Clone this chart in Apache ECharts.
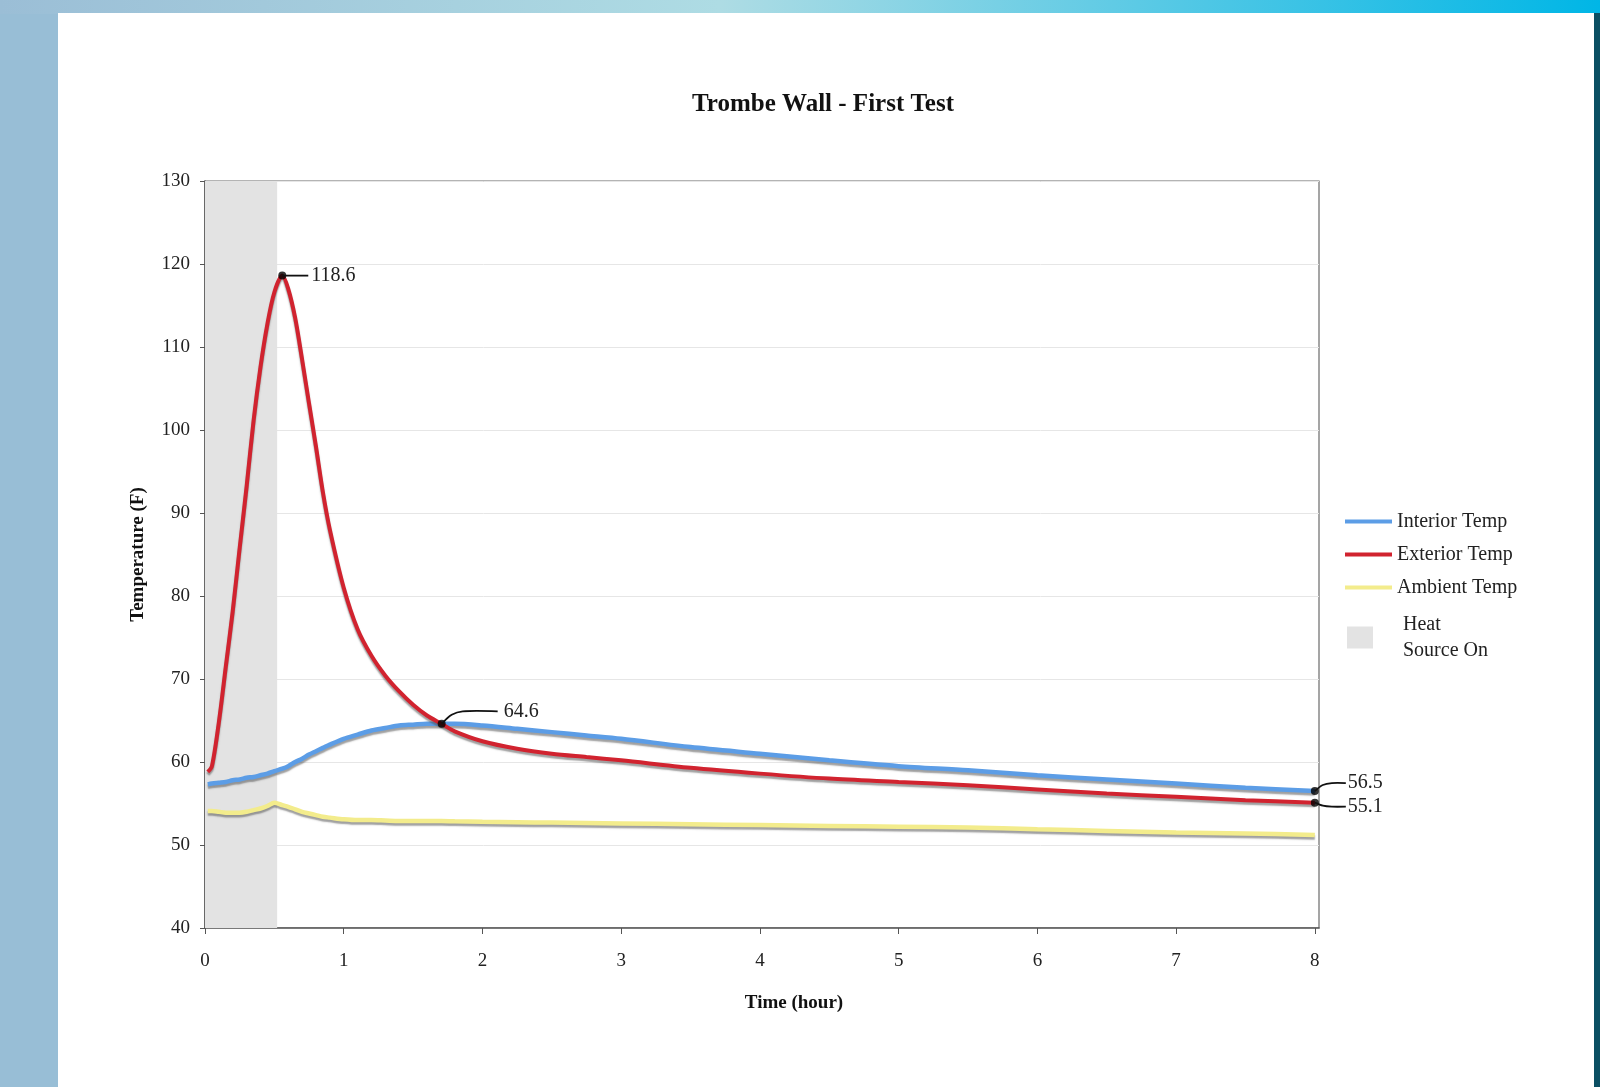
<!DOCTYPE html>
<html><head><meta charset="utf-8">
<script src="https://cdn.jsdelivr.net/npm/echarts@6/dist/echarts.min.js"></script>
<style>html,body{margin:0;padding:0;background:#98BED6}#c{width:1600px;height:1087px}</style>
</head><body><div id="c"></div>
<script>
// ---- data ----
const hours = [0.02,0.05,0.1,0.15,0.2,0.25,0.3,0.35,0.4,0.45,0.5,0.557,0.6,0.65,0.7,0.75,0.8,0.85,0.9,1.0,1.1,1.2,1.3,1.4,1.5,1.6,1.706,1.8,2.0,2.25,2.5,2.75,3,3.5,4,4.5,5,5.5,6,6.5,7,7.5,8];
const exteriorTemp = [58.8,59.5,64.8,71.5,78.2,85.8,93.2,101.1,107.6,112.8,116.6,118.6,117.0,113.5,108.5,103.2,98.0,92.5,88.0,81.0,76.0,72.8,70.4,68.5,66.9,65.6,64.6,63.7,62.5,61.6,61.0,60.6,60.2,59.3,58.6,58.0,57.6,57.2,56.7,56.2,55.8,55.4,55.1];
const interiorTemp = [57.3,57.4,57.5,57.6,57.8,57.9,58.1,58.2,58.4,58.6,58.9,59.2,59.5,60.0,60.4,60.9,61.3,61.7,62.1,62.8,63.3,63.8,64.1,64.4,64.5,64.6,64.6,64.6,64.4,64.0,63.6,63.2,62.8,61.8,61.0,60.2,59.5,59.0,58.4,57.9,57.4,56.9,56.5];
const ambientTemp = [54.1,54.1,54.0,53.9,53.9,53.9,54.0,54.2,54.4,54.7,55.1,54.8,54.6,54.3,54.0,53.8,53.6,53.4,53.3,53.1,53.0,53.0,52.95,52.9,52.9,52.9,52.9,52.85,52.8,52.75,52.7,52.65,52.6,52.5,52.4,52.3,52.2,52.1,51.9,51.7,51.5,51.4,51.2];
const heatSourceOn = [0, 0.52];
const xTicks = [0,1,2,3,4,5,6,7,8];
const annotHours = [0.557, 1.706, 8, 8];
const annotValues = [118.6, 64.6, 56.5, 55.1];
const annotLabels = ['118.6', '64.6', '56.5', '55.1'];

// ---- styling ----
const SERIF = '"Liberation Serif","DejaVu Serif",serif';
const pairs = arr => hours.map((h, i) => [h, arr[i]]);
const shadow = {shadowColor:'rgba(80,80,80,0.55)', shadowOffsetY:2.5, shadowBlur:1.5};

const chart = echarts.init(document.getElementById('c'), null, {renderer:'canvas'});
chart.setOption({
  backgroundColor:'#98BED6',
  animation:false,
  title:{text:'Trombe Wall - First Test', left:818, top:87, textAlign:'center',
    textStyle:{fontFamily:SERIF, fontWeight:'bold', fontSize:25, color:'#111'}},
  grid:{left:205, right:281, top:181, bottom:159, show:true, borderColor:'#6a6a6a', borderWidth:1.2, containLabel:false},
  xAxis:{type:'value', min:0, max:8.03,
    name:'Time (hour)', nameLocation:'middle', nameGap:66,
    nameTextStyle:{fontFamily:SERIF, fontWeight:'bold', fontSize:19, color:'#111', padding:[0,0,0,64]},
    axisLine:{lineStyle:{color:'#555', width:1.5}},
    axisTick:{show:true, customValues:xTicks, length:6, lineStyle:{color:'#555'}},
    axisLabel:{customValues:xTicks, margin:24, fontFamily:SERIF, fontSize:19, color:'#222'},
    splitLine:{show:false}},
  yAxis:{type:'value', min:40, max:130, interval:10,
    name:'Temperature (F)', nameLocation:'middle', nameGap:57,
    nameTextStyle:{fontFamily:SERIF, fontWeight:'bold', fontSize:19, color:'#111'},
    axisLine:{show:true, lineStyle:{color:'#555', width:1.5}},
    axisTick:{show:true, length:5, lineStyle:{color:'#555'}},
    axisLabel:{margin:15, fontFamily:SERIF, fontSize:19, color:'#222'},
    splitLine:{lineStyle:{color:'#e6e6e6', width:1}}},
  legend:[{
    data:['Interior Temp','Exterior Temp','Ambient Temp'],
    orient:'vertical', left:1345, top:511, padding:0, itemGap:12, itemWidth:47, itemHeight:4, icon:'rect',
    textStyle:{fontFamily:SERIF, fontSize:20, color:'#222', lineHeight:21}
  },{
    data:['Heat Source On'],
    orient:'vertical', left:1347, top:601, padding:0, itemWidth:26, itemHeight:22, icon:'rect',
    formatter:()=>'Heat\nSource On',
    textStyle:{fontFamily:SERIF, fontSize:20, color:'#222', lineHeight:26, padding:[21,0,0,25]}
  }],
  series:[
    {name:'Heat Source On', type:'line', data:[], itemStyle:{color:'#E3E3E3'}, z:1,
     markArea:{silent:true, itemStyle:{color:'#E3E3E3'},
       data:[[{xAxis:heatSourceOn[0], yAxis:40},{xAxis:heatSourceOn[1], yAxis:130}]]}},
    {name:'Ambient Temp', type:'line', data:pairs(ambientTemp), showSymbol:false, smooth:0.3,
     itemStyle:{color:'#F3EC8C'}, lineStyle:Object.assign({color:'#F3EC8C', width:4.5}, shadow), z:3},
    {name:'Interior Temp', type:'line', data:pairs(interiorTemp), showSymbol:false, smooth:0.3,
     itemStyle:{color:'#5C9DE6'}, lineStyle:Object.assign({color:'#5C9DE6', width:4.5}, shadow), z:4},
    {name:'Exterior Temp', type:'line', data:pairs(exteriorTemp), showSymbol:false, smooth:0.3,
     itemStyle:{color:'#D1232F'}, lineStyle:Object.assign({color:'#D1232F', width:4}, shadow), z:5},
    {name:'annotations', type:'scatter', data:annotHours.map((h,i)=>[h, annotValues[i]]),
     symbolSize:8, itemStyle:{color:'#000'}, z:10, silent:true}
  ]
});

// leader lines + labels placed from the axes' own scales
const leader = [
  {pts:[[0,0],[26,0]], text:[29,0]},
  {pts:[[0,0],[10,-9],[21,-12.5],[56,-12.5]], text:[62,-12]},
  {pts:[[0,0],[8,-6],[17,-8],[31,-8]], text:[33,-8]},
  {pts:[[0,0],[8,3],[17,4],[31,4]], text:[33,4]}
];
const gfx = [
  {type:'rect', silent:true, z:-10, shape:{x:0,y:0,width:1600,height:14},
   style:{fill:new echarts.graphic.LinearGradient(0,0,1,0,[{offset:0,color:'#9BBED6'},{offset:0.45,color:'#AEDCE4'},{offset:1,color:'#00B6E6'}])}},
  {type:'rect', silent:true, z:-10, shape:{x:1594,y:13,width:6,height:1074}, style:{fill:'#0B4F63'}},
  {type:'rect', silent:true, z:-10, shape:{x:58,y:13,width:1536,height:1074}, style:{fill:'#ffffff'}}
];
annotHours.forEach((h,i)=>{
  const p = chart.convertToPixel({gridIndex:0}, [h, annotValues[i]]);
  const L = leader[i];
  gfx.push({type:'polyline', silent:true, z:20,
    shape:{points:L.pts.map(d=>[p[0]+d[0], p[1]+d[1]]), smooth:0.3},
    style:{stroke:'#111', lineWidth:1.8, fill:null}});
  gfx.push({type:'text', silent:true, z:20, x:p[0]+L.text[0], y:p[1]+L.text[1],
    style:{text:annotLabels[i], font:'20px '+SERIF, fill:'#222', textAlign:'left', textVerticalAlign:'middle'}});
});
chart.setOption({graphic:gfx});
</script></body></html>
